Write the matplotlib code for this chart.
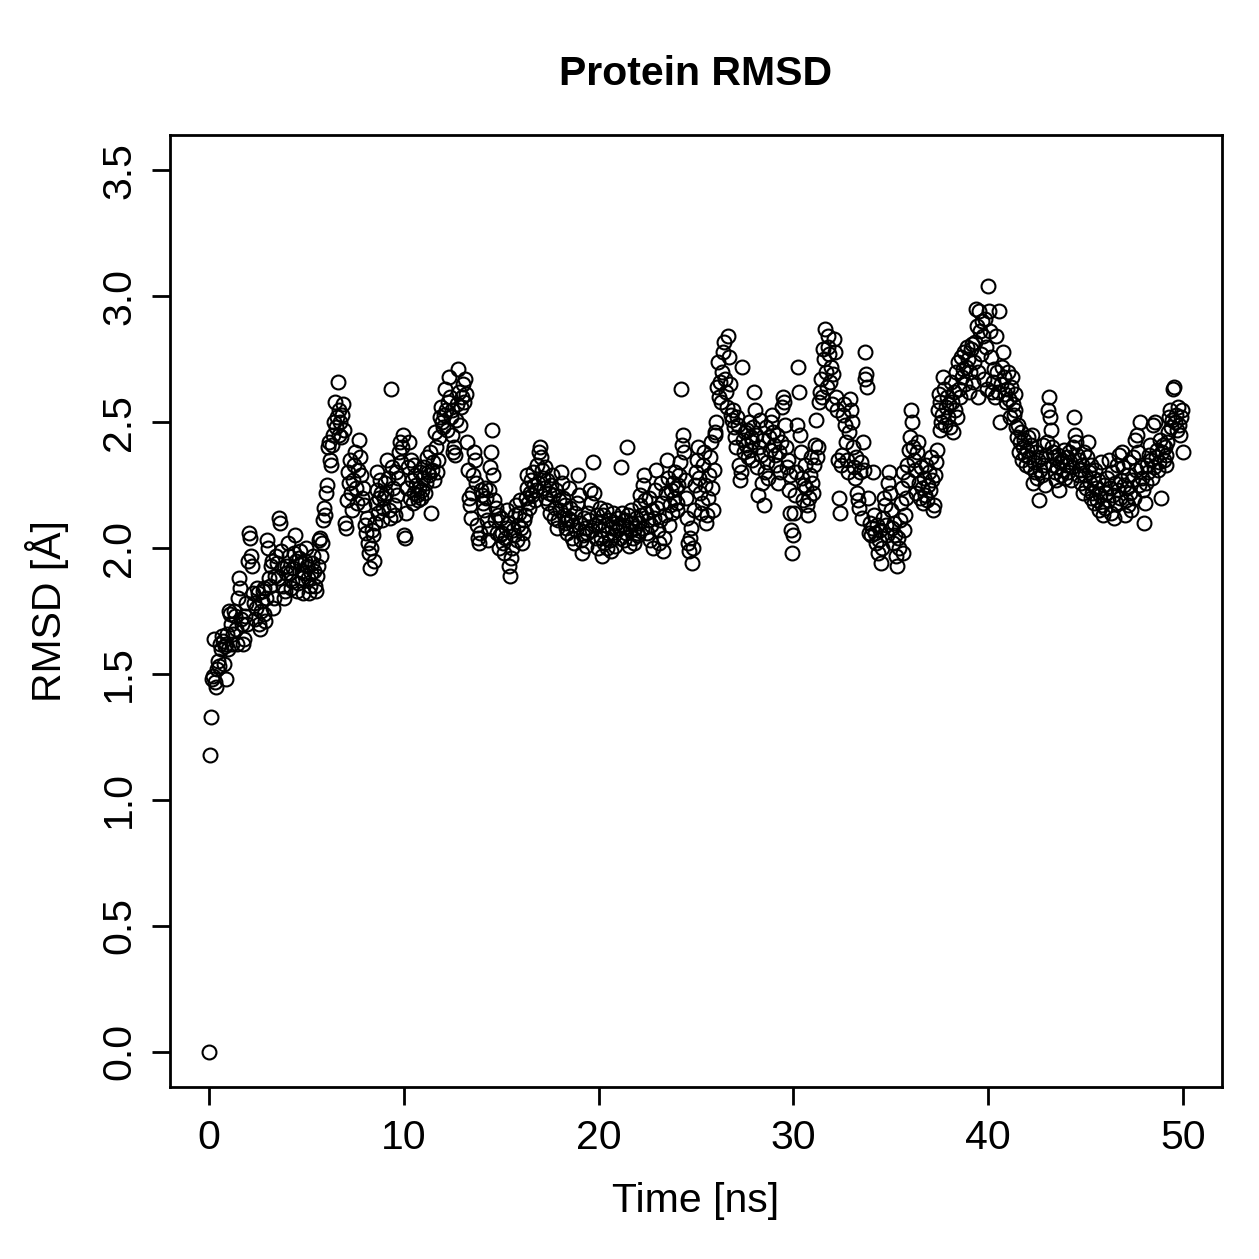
import numpy as np
import matplotlib
matplotlib.use("Agg")
import matplotlib.pyplot as plt

# RMSD values, one row per ns (20 frames per ns, 0.05 ns step)
rmsd_00_10 = [
    0.00, 1.18, 1.33, 1.48, 1.49, 1.64, 1.47, 1.45, 1.52, 1.55, 1.53, 1.62, 1.60, 1.65, 1.63, 1.54, 1.61, 1.48, 1.62, 1.66,
    1.60, 1.75, 1.74, 1.70, 1.62, 1.66, 1.75, 1.73, 1.68, 1.62, 1.80, 1.88, 1.84, 1.72, 1.70, 1.62, 1.64, 1.73, 1.78, 1.70,
    1.95, 2.06, 2.04, 1.97, 1.93, 1.82, 1.78, 1.72, 1.76, 1.84, 1.82, 1.70, 1.68, 1.75, 1.79, 1.83, 1.84, 1.74, 1.71, 1.80,
    2.03, 2.00, 1.88, 1.85, 1.93, 1.95, 1.76, 1.80, 1.89, 1.97, 1.94, 1.88, 2.12, 2.10, 1.99, 1.92, 1.85, 1.80, 1.83, 1.90,
    1.93, 2.02, 1.97, 1.90, 1.84, 1.87, 1.92, 1.98, 2.05, 1.95, 1.83, 1.86, 1.96, 1.99, 1.94, 1.91, 1.88, 1.82, 1.90, 1.95,
    2.00, 1.93, 1.88, 1.82, 1.85, 1.90, 1.94, 1.97, 1.91, 1.85, 1.83, 1.89, 1.93, 2.03, 2.04, 1.97, 2.02, 2.11, 2.16, 2.13,
    2.22, 2.25, 2.40, 2.42, 2.35, 2.33, 2.41, 2.45, 2.50, 2.58, 2.48, 2.52, 2.66, 2.45, 2.55, 2.50, 2.44, 2.53, 2.57, 2.47,
    2.10, 2.08, 2.19, 2.30, 2.26, 2.35, 2.22, 2.15, 2.27, 2.33, 2.38, 2.24, 2.18, 2.31, 2.43, 2.36, 2.29, 2.20, 2.24, 2.17,
    2.09, 2.06, 2.12, 2.02, 1.98, 1.92, 2.00, 2.07, 2.05, 1.95, 2.10, 2.18, 2.23, 2.30, 2.14, 2.20, 2.27, 2.22, 2.11, 2.16,
    2.20, 2.26, 2.22, 2.35, 2.28, 2.15, 2.12, 2.63, 2.32, 2.24, 2.17, 2.13, 2.30, 2.21, 2.28, 2.38, 2.42, 2.34, 2.40, 2.45,
]
rmsd_10_20 = [
    2.05, 2.04, 2.14, 2.24, 2.32, 2.42, 2.20, 2.35, 2.27, 2.18, 2.22, 2.33, 2.29, 2.25, 2.21, 2.19, 2.24, 2.30, 2.20, 2.23,
    2.28, 2.32, 2.22, 2.26, 2.36, 2.30, 2.29, 2.38, 2.14, 2.31, 2.34, 2.27, 2.46, 2.40, 2.30, 2.35, 2.44, 2.52, 2.56, 2.50,
    2.48, 2.53, 2.63, 2.55, 2.47, 2.58, 2.68, 2.60, 2.52, 2.45, 2.55, 2.38, 2.40, 2.37, 2.51, 2.57, 2.71, 2.62, 2.49, 2.56,
    2.60, 2.65, 2.58, 2.67, 2.61, 2.42, 2.31, 2.20, 2.17, 2.12, 2.22, 2.29, 2.38, 2.35, 2.26, 2.09, 2.04, 2.02, 2.06, 2.23,
    2.21, 2.18, 2.15, 2.24, 2.20, 2.11, 2.03, 2.08, 2.23, 2.32, 2.38, 2.47, 2.29, 2.19, 2.11, 2.16, 2.06, 2.13, 2.00, 2.05,
    2.12, 2.06, 2.02, 1.98, 2.04, 2.08, 2.15, 2.10, 1.93, 1.89, 1.96, 2.00, 2.07, 2.05, 2.13, 2.17, 2.03, 2.09, 2.14, 2.19,
    2.08, 2.02, 2.06, 2.11, 2.13, 2.20, 2.29, 2.24, 2.18, 2.16, 2.22, 2.27, 2.21, 2.30, 2.25, 2.19, 2.23, 2.33, 2.26, 2.38,
    2.40, 2.36, 2.31, 2.28, 2.24, 2.32, 2.20, 2.27, 2.18, 2.22, 2.14, 2.25, 2.29, 2.21, 2.12, 2.16, 2.23, 2.08, 2.11, 2.19,
    2.15, 2.30, 2.26, 2.20, 2.13, 2.10, 2.17, 2.08, 2.06, 2.12, 2.24, 2.16, 2.11, 2.04, 2.09, 2.02, 2.14, 2.07, 2.18, 2.29,
    2.21, 2.10, 2.03, 1.98, 2.05, 2.12, 2.08, 2.01, 2.06, 2.14, 2.11, 2.23, 2.18, 2.07, 2.34, 2.22, 2.09, 2.04, 2.13, 2.00,
]
rmsd_20_30 = [
    2.10, 2.16, 2.04, 1.97, 2.07, 2.13, 2.02, 2.09, 2.15, 2.00, 2.06, 2.11, 2.03, 1.99, 2.08, 2.14, 2.05, 2.01, 2.10, 2.07,
    2.12, 2.08, 2.04, 2.32, 2.14, 2.09, 2.03, 2.11, 2.06, 2.40, 2.13, 2.01, 2.07, 2.15, 2.10, 2.04, 2.02, 2.08, 2.12, 2.06,
    2.05, 2.10, 2.17, 2.21, 2.13, 2.08, 2.25, 2.29, 2.19, 2.14, 2.06, 2.11, 2.20, 2.03, 2.09, 2.15, 2.00, 2.12, 2.23, 2.31,
    2.16, 2.07, 2.02, 2.11, 2.26, 2.18, 1.99, 2.04, 2.13, 2.22, 2.35, 2.28, 2.09, 2.17, 2.23, 2.14, 2.26, 2.20, 2.30, 2.24,
    2.18, 2.15, 2.25, 2.29, 2.34, 2.63, 2.41, 2.45, 2.38, 2.27, 2.20, 2.12, 2.02, 1.99, 2.04, 2.08, 1.94, 2.00, 2.15, 2.25,
    2.30, 2.35, 2.40, 2.28, 2.22, 2.14, 2.18, 2.33, 2.38, 2.25, 2.10, 2.13, 2.20, 2.29, 2.36, 2.42, 2.24, 2.15, 2.31, 2.46,
    2.45, 2.50, 2.64, 2.74, 2.60, 2.66, 2.58, 2.70, 2.78, 2.82, 2.67, 2.62, 2.56, 2.84, 2.76, 2.65, 2.53, 2.51, 2.55, 2.48,
    2.44, 2.40, 2.52, 2.49, 2.33, 2.27, 2.30, 2.72, 2.43, 2.38, 2.46, 2.41, 2.47, 2.36, 2.50, 2.39, 2.44, 2.35, 2.42, 2.48,
    2.62, 2.55, 2.45, 2.32, 2.21, 2.40, 2.51, 2.37, 2.26, 2.43, 2.17, 2.30, 2.48, 2.34, 2.28, 2.44, 2.39, 2.50, 2.53, 2.46,
    2.41, 2.37, 2.33, 2.45, 2.26, 2.38, 2.30, 2.42, 2.56, 2.60, 2.58, 2.49, 2.40, 2.32, 2.35, 2.23, 2.29, 2.14, 2.07, 1.98,
]
rmsd_30_40 = [
    2.05, 2.14, 2.21, 2.30, 2.49, 2.72, 2.62, 2.45, 2.38, 2.28, 2.19, 2.25, 2.33, 2.24, 2.17, 2.13, 2.20, 2.29, 2.36, 2.26,
    2.22, 2.33, 2.41, 2.51, 2.36, 2.40, 2.58, 2.62, 2.67, 2.60, 2.79, 2.75, 2.87, 2.70, 2.64, 2.80, 2.84, 2.77, 2.66, 2.72,
    2.57, 2.69, 2.83, 2.78, 2.60, 2.55, 2.35, 2.20, 2.14, 2.33, 2.37, 2.53, 2.57, 2.49, 2.42, 2.35, 2.30, 2.46, 2.59, 2.55,
    2.50, 2.40, 2.32, 2.28, 2.36, 2.22, 2.19, 2.16, 2.30, 2.34, 2.12, 2.42, 2.31, 2.67, 2.78, 2.69, 2.64, 2.20, 2.06, 2.10,
    2.05, 2.08, 2.30, 2.13, 2.06, 2.02, 2.09, 1.98, 2.03, 2.07, 1.94, 2.00, 2.12, 2.20, 2.17, 2.09, 2.05, 2.26, 2.30, 2.22,
    2.15, 2.08, 2.02, 2.10, 2.05, 1.97, 1.93, 2.04, 2.00, 2.11, 2.18, 2.24, 2.30, 1.98, 2.07, 2.13, 2.20, 2.33, 2.27, 2.39,
    2.44, 2.55, 2.50, 2.40, 2.35, 2.31, 2.22, 2.38, 2.42, 2.26, 2.20, 2.32, 2.24, 2.18, 2.28, 2.21, 2.33, 2.19, 2.25, 2.30,
    2.23, 2.36, 2.27, 2.15, 2.17, 2.29, 2.34, 2.39, 2.55, 2.61, 2.47, 2.58, 2.50, 2.53, 2.68, 2.63, 2.49, 2.56, 2.60, 2.52,
    2.57, 2.48, 2.66, 2.58, 2.46, 2.62, 2.55, 2.70, 2.52, 2.74, 2.63, 2.60, 2.76, 2.68, 2.71, 2.78, 2.65, 2.72, 2.80, 2.75,
    2.62, 2.70, 2.79, 2.81, 2.66, 2.74, 2.82, 2.95, 2.88, 2.60, 2.70, 2.94, 2.86, 2.77, 2.90, 2.84, 2.67, 2.91, 2.80, 2.63,
]
rmsd_40_50 = [
    3.04, 2.94, 2.86, 2.76, 2.62, 2.66, 2.71, 2.60, 2.84, 2.70, 2.62, 2.94, 2.50, 2.65, 2.72, 2.78, 2.68, 2.61, 2.58, 2.63,
    2.70, 2.59, 2.52, 2.64, 2.68, 2.57, 2.53, 2.61, 2.55, 2.48, 2.44, 2.49, 2.38, 2.42, 2.46, 2.35, 2.40, 2.43, 2.37, 2.33,
    2.39, 2.44, 2.36, 2.32, 2.41, 2.45, 2.26, 2.34, 2.30, 2.38, 2.28, 2.35, 2.19, 2.31, 2.36, 2.29, 2.41, 2.33, 2.25, 2.37,
    2.42, 2.55, 2.60, 2.52, 2.47, 2.40, 2.38, 2.33, 2.36, 2.30, 2.27, 2.32, 2.37, 2.23, 2.34, 2.29, 2.35, 2.31, 2.39, 2.28,
    2.33, 2.36, 2.30, 2.38, 2.34, 2.27, 2.32, 2.40, 2.52, 2.45, 2.42, 2.37, 2.29, 2.35, 2.31, 2.26, 2.33, 2.22, 2.38, 2.29,
    2.24, 2.36, 2.42, 2.30, 2.26, 2.20, 2.33, 2.22, 2.28, 2.18, 2.31, 2.24, 2.19, 2.27, 2.15, 2.21, 2.34, 2.17, 2.13, 2.25,
    2.16, 2.22, 2.28, 2.19, 2.35, 2.24, 2.14, 2.30, 2.21, 2.12, 2.26, 2.18, 2.33, 2.23, 2.37, 2.20, 2.27, 2.38, 2.32, 2.25,
    2.13, 2.19, 2.24, 2.29, 2.17, 2.34, 2.22, 2.15, 2.27, 2.36, 2.20, 2.43, 2.31, 2.45, 2.38, 2.25, 2.50, 2.32, 2.28, 2.23,
    2.10, 2.18, 2.26, 2.33, 2.30, 2.37, 2.41, 2.35, 2.28, 2.49, 2.32, 2.50, 2.36, 2.39, 2.31, 2.34, 2.43, 2.20, 2.38, 2.41,
    2.35, 2.40, 2.37, 2.33, 2.42, 2.46, 2.52, 2.55, 2.48, 2.51, 2.63, 2.64, 2.50, 2.53, 2.47, 2.56, 2.49, 2.45, 2.52, 2.55,
    2.38,
]
time_step = 0.05  # ns per frame

rmsd = np.array(rmsd_00_10 + rmsd_10_20 + rmsd_20_30 + rmsd_30_40 + rmsd_40_50)
time = np.arange(len(rmsd)) * time_step

plt.rcParams["font.family"] = ["Liberation Sans", "DejaVu Sans"]

fig = plt.figure(figsize=(12.59, 12.59), dpi=100)
ax = fig.add_axes([170 / 1259, 1 - 1087 / 1259, (1222 - 170) / 1259, (1087 - 135) / 1259])

ax.plot(time, rmsd, linestyle="none", marker="o", markersize=10,
        markerfacecolor="none", markeredgecolor="black", markeredgewidth=1.5)

ax.set_xlim(-2, 52)
ax.set_ylim(-0.14, 3.64)
ax.set_xticks([0, 10, 20, 30, 40, 50])
ax.set_yticks(np.arange(0, 3.51, 0.5))
ax.set_yticklabels([f"{v:.1f}" for v in np.arange(0, 3.51, 0.5)], rotation=90, va="center")

for s in ax.spines.values():
    s.set_linewidth(2)
ax.tick_params(direction="out", length=13, width=2, labelsize=29.5, pad=10)

ax.set_xlabel("Time [ns]", fontsize=29.5, labelpad=18)
ax.set_ylabel("RMSD [Å]", fontsize=29.5, labelpad=22)
ax.set_title("Protein RMSD", fontsize=29.5, fontweight="bold", pad=36)

fig.savefig("out.png", dpi=100)
plt.close(fig)
